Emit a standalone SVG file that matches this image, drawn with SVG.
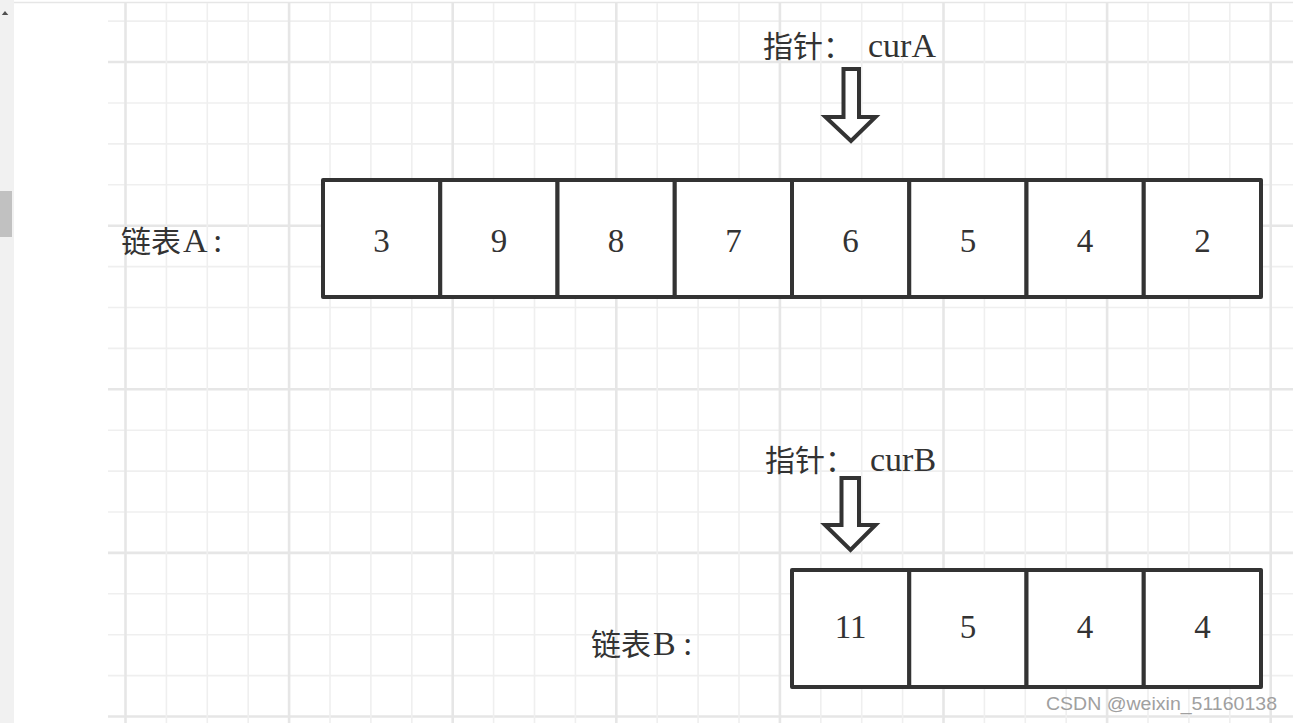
<svg xmlns="http://www.w3.org/2000/svg" width="1293" height="723" viewBox="0 0 1293 723">
<defs>
<style>
.minor{stroke:#efefef;stroke-width:1.6;fill:none}
.major{stroke:#e6e6e6;stroke-width:2.6;fill:none}
.cell{fill:#ffffff;stroke:#333333;stroke-width:4;stroke-linejoin:round}
.num{font-family:"Liberation Serif","Noto Sans CJK SC",serif;font-size:33px;fill:#333333;text-anchor:middle}
.lbl{font-family:"Liberation Serif","Noto Sans CJK SC",serif;font-size:30px;fill:#333333}
.lat{font-size:34px}
.ptr{fill:#ffffff;stroke:#333333;stroke-width:4;stroke-linejoin:miter}
.wm{font-family:"Liberation Sans",Arial,sans-serif;font-size:18.5px;fill:#a0a0a0}
</style>
</defs>
<rect x="0" y="0" width="1293" height="723" fill="#ffffff"/>
<g id="scrollbar">
<rect x="0" y="0" width="14" height="723" fill="#f1f1f1"/>
<path d="M1.8 15 L5 11 L8.3 15 Z" fill="#505050"/>
<rect x="0" y="191" width="12" height="46" fill="#c1c1c1"/>
</g>
<line x1="14" y1="2.5" x2="1293" y2="2.5" stroke="#e6e6e6" stroke-width="1.5"/>
<g id="grid">
<path class="minor" d="M108 21.1H1293M108 103H1293M108 143.9H1293M108 184.8H1293M108 266.6H1293M108 307.5H1293M108 348.4H1293M108 430.2H1293M108 471.1H1293M108 512H1293M108 593.8H1293M108 634.7H1293M108 675.6H1293"/>
<path class="major" d="M108 62H1293M108 225.7H1293M108 389.3H1293M108 552.9H1293M108 716.5H1293"/>
<path class="minor" d="M166.4 3V723M207.3 3V723M248.2 3V723M330 3V723M370.9 3V723M411.8 3V723M493.6 3V723M534.5 3V723M575.4 3V723M657.2 3V723M698.1 3V723M739 3V723M820.8 3V723M861.7 3V723M902.6 3V723M984.4 3V723M1025.3 3V723M1066.2 3V723M1148 3V723M1188.9 3V723M1229.8 3V723"/>
<path class="major" d="M125.5 3V723M289.1 3V723M452.7 3V723M616.3 3V723M779.9 3V723M943.5 3V723M1107.1 3V723M1270.7 3V723"/>
</g>
<g id="labelA"><text class="lbl" x="121" y="252">链表<tspan class="lat" x="183">A</tspan><tspan class="lat" x="213">:</tspan></text></g>
<g id="labelB"><text class="lbl" x="591" y="655">链表<tspan class="lat" x="653">B</tspan><tspan class="lat" x="683">:</tspan></text></g>
<g id="pointerA"><text class="lbl" x="763" y="57">指针：<tspan class="lat" x="868">curA</tspan></text></g>
<g id="pointerB"><text class="lbl" x="765" y="471">指针：<tspan class="lat" x="870">curB</tspan></text></g>
<g id="listA">
<g id="a0"><rect class="cell" x="323" y="180" width="117.25" height="117"/><text class="num" x="381.6" y="252">3</text></g>
<g id="a1"><rect class="cell" x="440.25" y="180" width="117.25" height="117"/><text class="num" x="498.9" y="252">9</text></g>
<g id="a2"><rect class="cell" x="557.5" y="180" width="117.25" height="117"/><text class="num" x="616.1" y="252">8</text></g>
<g id="a3"><rect class="cell" x="674.75" y="180" width="117.25" height="117"/><text class="num" x="733.4" y="252">7</text></g>
<g id="a4"><rect class="cell" x="792" y="180" width="117.25" height="117"/><text class="num" x="850.6" y="252">6</text></g>
<g id="a5"><rect class="cell" x="909.25" y="180" width="117.25" height="117"/><text class="num" x="967.9" y="252">5</text></g>
<g id="a6"><rect class="cell" x="1026.5" y="180" width="117.25" height="117"/><text class="num" x="1085.1" y="252">4</text></g>
<g id="a7"><rect class="cell" x="1143.75" y="180" width="117.25" height="117"/><text class="num" x="1202.4" y="252">2</text></g>
</g>
<g id="listB">
<g id="b0"><rect class="cell" x="792" y="570" width="117.25" height="117"/><text class="num" x="850.6" y="638">11</text></g>
<g id="b1"><rect class="cell" x="909.25" y="570" width="117.25" height="117"/><text class="num" x="967.9" y="638">5</text></g>
<g id="b2"><rect class="cell" x="1026.5" y="570" width="117.25" height="117"/><text class="num" x="1085.1" y="638">4</text></g>
<g id="b3"><rect class="cell" x="1143.75" y="570" width="117.25" height="117"/><text class="num" x="1202.4" y="638">4</text></g>
</g>
<g id="connectors">
<path class="ptr" d="M843.5 69H859V117H875.5L851 141L825.5 117H843.5Z"/>
<path class="ptr" d="M841.5 478H859V525H875.5L850.5 550L825 525H841.5Z"/>
</g>
<text class="wm" x="1046" y="710" textLength="231" lengthAdjust="spacingAndGlyphs">CSDN @weixin_51160138</text>
</svg>
